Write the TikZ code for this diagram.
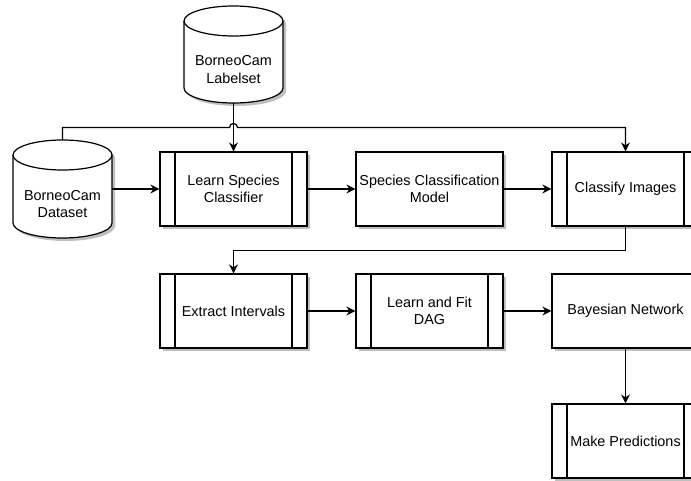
\documentclass[tikz,border=0pt]{standalone}
\usepackage{fontspec}
\setmainfont{Liberation Sans}
\usetikzlibrary{arrows.meta,shadows,calc}
\newcommand{\cylshape}[5]{%
 \pgfmathsetmacro\cylXL{#2}\pgfmathsetmacro\cylXR{#3}%
 \pgfmathsetmacro\cylXC{(#2+#3)/2}\pgfmathsetmacro\cylK{0.5523*(#3-#2)/2}%
 \pgfmathsetmacro\cylYT{#4+15}\pgfmathsetmacro\cylYB{#5-15}%
 \path[#1] (\cylXL,\cylYT) -- (\cylXL,\cylYB)
   .. controls (\cylXL,\cylYB+8.28) and (\cylXC-\cylK,#5) .. (\cylXC,#5)
   .. controls (\cylXC+\cylK,#5) and (\cylXR,\cylYB+8.28) .. (\cylXR,\cylYB)
   -- (\cylXR,\cylYT)
   .. controls (\cylXR,\cylYT-8.28) and (\cylXC+\cylK,#4) .. (\cylXC,#4)
   .. controls (\cylXC-\cylK,#4) and (\cylXL,\cylYT-8.28) .. (\cylXL,\cylYT) -- cycle;
}
\newcommand{\cyltop}[5]{%
 \pgfmathsetmacro\cylXL{#2}\pgfmathsetmacro\cylXR{#3}%
 \pgfmathsetmacro\cylXC{(#2+#3)/2}\pgfmathsetmacro\cylK{0.5523*(#3-#2)/2}%
 \pgfmathsetmacro\cylYT{#4+15}%
 \path[#1] (\cylXL,\cylYT)
   .. controls (\cylXL,\cylYT+8.28) and (\cylXC-\cylK,#4+30) .. (\cylXC,#4+30)
   .. controls (\cylXC+\cylK,#4+30) and (\cylXR,\cylYT+8.28) .. (\cylXR,\cylYT);
}
\begin{document}
\begin{tikzpicture}[x=1pt,y=-1pt,
  every node/.style={font=\fontsize{14.4}{17.3}\selectfont, align=center, inner sep=0pt},
  box/.style={draw, line width=1.2pt, fill=white, minimum width=147pt, minimum height=74pt,
    drop shadow={shadow xshift=3pt,shadow yshift=-3pt,fill=black!25,opacity=1}},
  procbox/.style={box, path picture={\draw[line width=1.2pt]
    ([xshift=15pt]path picture bounding box.north west) -- ([xshift=15pt]path picture bounding box.south west)
    ([xshift=-15pt]path picture bounding box.north east) -- ([xshift=-15pt]path picture bounding box.south east);}},
  dbase/.style={minimum width=99pt, minimum height=97pt},
  dbtext/.style={yshift=-15pt},
  link/.style={line width=1.2pt},
  arr/.style={line width=1.2pt, -{Stealth[length=9pt,width=9pt,inset=3pt]}}
]
\useasboundingbox[fill=white] (0,0) rectangle (691,481);

% cylinders (shadow, body, top rim)
\cylshape{fill=black!25, shift={(3,3)}}{184}{283}{6}{103}
\cylshape{draw, fill=white, line width=1.2pt}{184}{283}{6}{103}
\cyltop{draw, line width=1.2pt}{184}{283}{6}{103}
\cylshape{fill=black!25, shift={(3,3)}}{13}{112}{140}{238}
\cylshape{draw, fill=white, line width=1.2pt}{13}{112}{140}{238}
\cyltop{draw, line width=1.2pt}{13}{112}{140}{238}

\node[dbase, label={[dbtext]center:BorneoCam\\Labelset}] (lbl) at (233.5,54.5) {};
\node[dbase, minimum height=98pt, label={[dbtext]center:BorneoCam\\Dataset}] (ds) at (62.5,189) {};

\node[procbox] (learn) at (233.5,189) {Learn Species\\Classifier};
\node[box]     (scm)   at (429.5,189) {Species Classification\\Model};
\node[procbox] (ci)    at (625.5,189) {Classify Images};
\node[procbox] (ei)    at (233.5,311) {Extract Intervals};
\node[procbox] (dag)   at (429.5,311) {Learn and Fit\\DAG};
\node[box]     (bn)    at (625.5,311) {Bayesian Network};
\node[procbox] (mp)    at (625.5,441) {Make Predictions};

\coordinate (jL) at (229.5,127.5);
\coordinate (jR) at (237.5,127.5);

\draw[arr] (lbl.south) -- (learn.north);
\draw[arr] (ds.north) |- (jL) .. controls (229.5,122.2) and (237.5,122.2) .. (jR) -| (ci.north);
\draw[arr] (ds.east) -- (learn.west);
\draw[arr] (learn.east) -- (scm.west);
\draw[arr] (scm.east) -- (ci.west);
\draw[arr] (ci.south) -- ++(0,24) -| (ei.north);
\draw[arr] (ei.east) -- (dag.west);
\draw[arr] (dag.east) -- (bn.west);
\draw[arr] (bn.south) -- (mp.north);
\end{tikzpicture}
\end{document}
